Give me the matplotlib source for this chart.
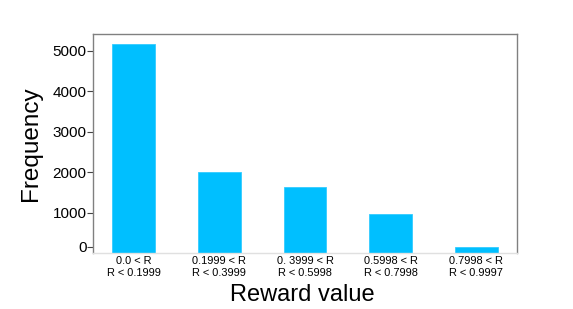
import matplotlib
matplotlib.use("Agg")
import matplotlib.pyplot as plt
import matplotlib.transforms as mtransforms
import numpy as np

plt.rcParams['font.family'] = ['Liberation Sans', 'DejaVu Sans']

categories = ["0.0 < R\nR < 0.1999", "0.1999 < R\nR < 0.3999", "0. 3999 < R\nR < 0.5998",
              "0.5998 < R\nR < 0.7998", "0.7998 < R\nR < 0.9997"]
frequencies = [5170, 2010, 1630, 970, 144]
yticks = [0, 1000, 2000, 3000, 4000, 5000]

fig = plt.figure(figsize=(5.73, 3.09), dpi=100)
ax = fig.add_axes([0.1623, 0.1812, 0.74, 0.709])

x = np.arange(len(categories))
ax.bar(x, frequencies, width=0.5, color='#00BFFF', edgecolor='#33CCFF', linewidth=0.6)

ax.set_xlim(-0.475, len(categories) - 1 + 0.475)
ax.set_ylim(0, 5420)
ax.set_yticks(yticks)
ax.set_yticklabels([str(v) for v in yticks], fontsize=11)
ax.set_xticks(x)
ax.set_xticklabels(categories, fontsize=7.9, linespacing=1.25)
ax.tick_params(axis='x', length=0, pad=2)
ax.tick_params(axis='y', length=4, width=0.8, color='#444444', pad=0.5)

for side in ['left', 'top', 'right']:
    ax.spines[side].set_color('#808080')
    ax.spines[side].set_linewidth(1.0)
ax.spines['bottom'].set_color('#e0e0e0')
ax.spines['bottom'].set_linewidth(1.0)

# shift the "0" tick slightly upward as in the reference
tick0 = ax.yaxis.get_major_ticks()[0]
off = mtransforms.ScaledTranslation(0, 4.5/72, fig.dpi_scale_trans)
tick0.label1.set_transform(tick0.label1.get_transform() + off)
tick0.tick1line.set_transform(tick0.tick1line.get_transform() + off)

ax.set_ylabel("Frequency", fontsize=17.5)
ax.yaxis.set_label_coords(-0.12, 0.5)
ax.set_xlabel("Reward value", fontsize=17)
ax.xaxis.set_label_coords(0.493, -0.14)

fig.savefig("out.png", dpi=100)
